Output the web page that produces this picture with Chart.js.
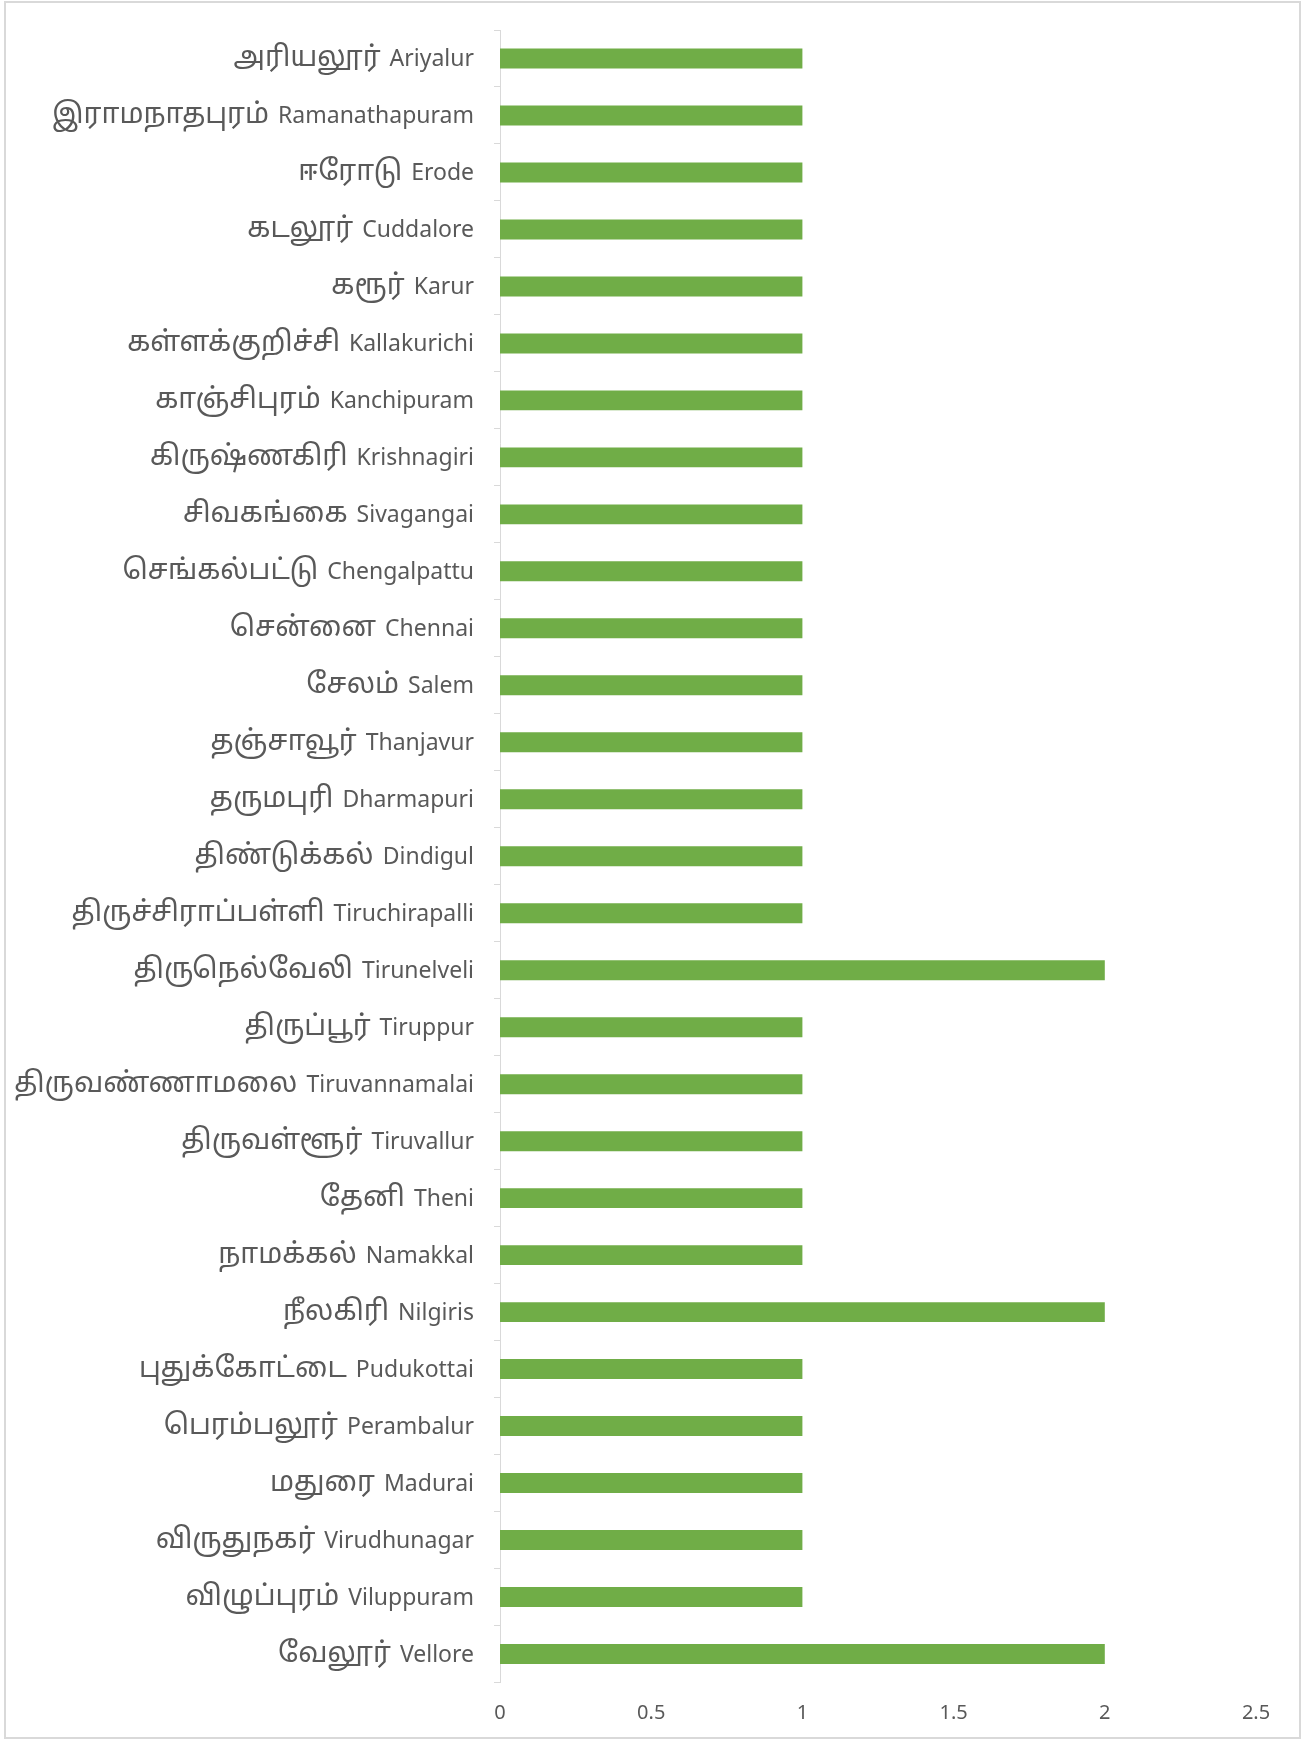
<!DOCTYPE html>
<html>
<head>
<meta charset="utf-8">
<script src="https://cdn.jsdelivr.net/npm/chart.js@4"></script>
<style>
  html, body { margin: 0; padding: 0; background: #ffffff; }
  #frame { position: absolute; left: 4px; top: 1px; width: 1297px; height: 1738px;
           box-sizing: border-box; border: 2px solid #d9d9d9; }
  #wrap { position: absolute; left: 0; top: 0; width: 1302px; height: 1740px; }
</style>
</head>
<body>
<div id="frame"></div>
<div id="wrap"><canvas id="c" width="1302" height="1740"></canvas></div>
<script>
// Districts of Tamil Nadu (Tamil name + English name)
const districts = [
  "அரியலூர் Ariyalur",
  "இராமநாதபுரம் Ramanathapuram",
  "ஈரோடு Erode",
  "கடலூர் Cuddalore",
  "கரூர் Karur",
  "கள்ளக்குறிச்சி Kallakurichi",
  "காஞ்சிபுரம் Kanchipuram",
  "கிருஷ்ணகிரி Krishnagiri",
  "சிவகங்கை Sivagangai",
  "செங்கல்பட்டு Chengalpattu",
  "சென்னை Chennai",
  "சேலம் Salem",
  "தஞ்சாவூர் Thanjavur",
  "தருமபுரி Dharmapuri",
  "திண்டுக்கல் Dindigul",
  "திருச்சிராப்பள்ளி Tiruchirapalli",
  "திருநெல்வேலி Tirunelveli",
  "திருப்பூர் Tiruppur",
  "திருவண்ணாமலை Tiruvannamalai",
  "திருவள்ளூர் Tiruvallur",
  "தேனி Theni",
  "நாமக்கல் Namakkal",
  "நீலகிரி Nilgiris",
  "புதுக்கோட்டை Pudukottai",
  "பெரம்பலூர் Perambalur",
  "மதுரை Madurai",
  "விருதுநகர் Virudhunagar",
  "விழுப்புரம் Viluppuram",
  "வேலூர் Vellore"
];

// Count per district
const counts = [1, 1, 1, 1, 1, 1, 1, 1, 1, 1, 1, 1, 1, 1, 1, 1, 2, 1, 1, 1, 1, 1, 2, 1, 1, 1, 1, 1, 2];

// Value axis ticks
const xTicks = [0, 0.5, 1, 1.5, 2, 2.5];

const latinFamily = "'Noto Sans', 'Open Sans', sans-serif";
const tamilFamily = "'Noto Sans Tamil', 'Lohit Tamil', 'Noto Sans', sans-serif";
const textColor = '#595959';

// Category labels: Tamil part drawn larger than the English part, right-aligned at the axis
const twoScriptLabels = {
  id: 'twoScriptLabels',
  afterDraw(chart) {
    const y = chart.scales.y;
    const ctx = chart.ctx;
    const right = y.right - 26;
    ctx.save();
    ctx.fillStyle = textColor;
    ctx.textBaseline = 'alphabetic';
    districts.forEach((name, i) => {
      const cut = name.indexOf(' ');
      const ta = name.slice(0, cut);
      const en = name.slice(cut + 1);
      const cy = y.getPixelForTick(i) + 8;
      ctx.font = "23px " + latinFamily;
      ctx.textAlign = 'right';
      ctx.fillText(en, right, cy);
      const enW = ctx.measureText(en).width;
      ctx.font = "28px " + tamilFamily;
      ctx.fillText(ta, right - enW - 9, cy);
    });
    ctx.restore();
  }
};

new Chart(document.getElementById('c'), {
  type: 'bar',
  data: {
    labels: districts,
    datasets: [{
      data: counts,
      backgroundColor: '#70ad47',
      borderWidth: 0,
      barPercentage: 0.7,
      categoryPercentage: 0.5
    }]
  },
  plugins: [twoScriptLabels],
  options: {
    indexAxis: 'y',
    responsive: false,
    animation: false,
    layout: { padding: { top: 30, right: 46, bottom: 0, left: 0 } },
    plugins: { legend: { display: false }, tooltip: { enabled: false } },
    scales: {
      x: {
        min: xTicks[0],
        max: xTicks[xTicks.length - 1],
        afterBuildTicks: (scale) => { scale.ticks = xTicks.map(v => ({ value: v })); },
        grid: { display: false, drawTicks: false },
        border: { display: false },
        ticks: { color: textColor, font: { family: latinFamily, size: 20 }, padding: 19,
                 callback: (v) => String(v) },
        afterFit: (scale) => { scale.height = 57.5; }
      },
      y: {
        grid: { drawOnChartArea: false, color: '#d9d9d9', tickLength: 6, offset: true },
        border: { display: true, color: '#d9d9d9', width: 1 },
        ticks: { display: false, autoSkip: false },
        afterFit: (scale) => { scale.width = 500; }
      }
    }
  }
});
</script>
</body>
</html>
